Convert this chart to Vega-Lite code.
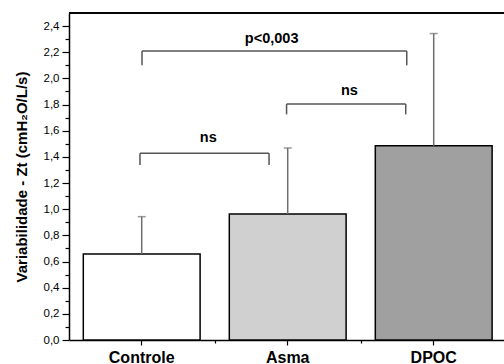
{
  "$schema": "https://vega.github.io/schema/vega-lite/v6.json",
  "width": 435,
  "height": 327,
  "autosize": {"type": "none"},
  "padding": {"left": 69, "top": 13, "right": 0, "bottom": 24},
  "config": {
    "font": "Liberation Sans",
    "view": {"stroke": null},
    "axis": {"grid": false, "domainColor": "#000", "domainWidth": 1.5, "tickColor": "#000", "tickWidth": 1.2, "labelColor": "#000", "titleColor": "#000"},
    "axisY": {
      "titleFontSize": 15, "titleFontWeight": "bold", "titlePadding": 14,
      "labelFontSize": 11.5, "labelPadding": 3, "labelOverlap": false,
      "labelExpr": "round(datum.value*10) % 2 === 0 ? replace(format(datum.value, '.1f'), '.', ',') : ''",
      "tickSize": {"condition": {"test": "round(datum.value*10) % 2 === 0", "value": 7}, "value": 4}
    }
  },
  "datasets": {
    "bars": [
      {"grupo": "Controle", "media": 0.657, "superior": 0.943},
      {"grupo": "Asma", "media": 0.963, "superior": 1.468},
      {"grupo": "DPOC", "media": 1.485, "superior": 2.343}
    ],
    "brackets": [
      {"rotulo": "p<0,003", "x1": 0.5, "x2": 2.313, "y": 2.21, "ylow": 2.10, "xt": 1.388, "yt": 2.299},
      {"rotulo": "ns", "x1": 1.49, "x2": 2.306, "y": 1.804, "ylow": 1.725, "xt": 1.92, "yt": 1.905},
      {"rotulo": "ns", "x1": 0.486, "x2": 1.37, "y": 1.427, "ylow": 1.338, "xt": 0.954, "yt": 1.547}
    ]
  },
  "layer": [
    {
      "data": {"name": "bars"},
      "encoding": {
        "x": {
          "field": "grupo", "type": "nominal",
          "scale": {"domain": ["Controle", "Asma", "DPOC"], "paddingInner": 0.2, "paddingOuter": 0.0897, "align": 0.546},
          "axis": {"title": null, "labelFontSize": 16, "labelFontWeight": "bold", "labelAngle": 0, "tickSize": 5, "labelPadding": 4}
        }
      },
      "layer": [
        {
          "mark": {"type": "bar", "stroke": "#000", "strokeWidth": 1.5},
          "encoding": {
            "y": {
              "field": "media", "type": "quantitative",
              "scale": {"domain": [0, 2.5], "nice": false},
              "axis": {"title": "Variabilidade - Zt (cmH₂O/L/s)", "values": [0, 0.1, 0.2, 0.3, 0.4, 0.5, 0.6, 0.7, 0.8, 0.9, 1.0, 1.1, 1.2, 1.3, 1.4, 1.5, 1.6, 1.7, 1.8, 1.9, 2.0, 2.1, 2.2, 2.3, 2.4]}
            },
            "color": {
              "field": "grupo", "type": "nominal",
              "scale": {"domain": ["Controle", "Asma", "DPOC"], "range": ["#ffffff", "#d0d0d0", "#a0a0a0"]},
              "legend": null
            }
          }
        },
        {
          "mark": {"type": "rule", "color": "#6e6e6e", "strokeWidth": 1.5},
          "encoding": {
            "y": {"field": "media", "type": "quantitative", "axis": {"title": "Variabilidade - Zt (cmH₂O/L/s)", "values": [0, 0.1, 0.2, 0.3, 0.4, 0.5, 0.6, 0.7, 0.8, 0.9, 1.0, 1.1, 1.2, 1.3, 1.4, 1.5, 1.6, 1.7, 1.8, 1.9, 2.0, 2.1, 2.2, 2.3, 2.4]}},
            "y2": {"field": "superior"}
          }
        },
        {
          "mark": {"type": "tick", "color": "#6e6e6e", "thickness": 1.5, "size": 8},
          "encoding": {
            "y": {"field": "superior", "type": "quantitative", "axis": {"title": "Variabilidade - Zt (cmH₂O/L/s)", "values": [0, 0.1, 0.2, 0.3, 0.4, 0.5, 0.6, 0.7, 0.8, 0.9, 1.0, 1.1, 1.2, 1.3, 1.4, 1.5, 1.6, 1.7, 1.8, 1.9, 2.0, 2.1, 2.2, 2.3, 2.4]}}
          }
        }
      ]
    },
    {
      "data": {"name": "brackets"},
      "layer": [
        {
          "mark": {"type": "rule", "color": "#000", "strokeWidth": 1.5},
          "encoding": {"y": {"datum": 2.5, "type": "quantitative", "axis": {"title": "Variabilidade - Zt (cmH₂O/L/s)", "values": [0, 0.1, 0.2, 0.3, 0.4, 0.5, 0.6, 0.7, 0.8, 0.9, 1.0, 1.1, 1.2, 1.3, 1.4, 1.5, 1.6, 1.7, 1.8, 1.9, 2.0, 2.1, 2.2, 2.3, 2.4]}}}
        },
        {
          "mark": {"type": "rule", "color": "#555", "strokeWidth": 1.5},
          "encoding": {
            "x": {"field": "x1", "type": "quantitative", "scale": {"domain": [0, 2.979], "nice": false, "zero": false},
                  "axis": {"title": null, "values": [1, 2], "labels": false, "domain": false, "tickSize": 3, "orient": "bottom"}},
            "x2": {"field": "x2"},
            "y": {"field": "y", "type": "quantitative", "axis": {"title": "Variabilidade - Zt (cmH₂O/L/s)", "values": [0, 0.1, 0.2, 0.3, 0.4, 0.5, 0.6, 0.7, 0.8, 0.9, 1.0, 1.1, 1.2, 1.3, 1.4, 1.5, 1.6, 1.7, 1.8, 1.9, 2.0, 2.1, 2.2, 2.3, 2.4]}}
          }
        },
        {
          "mark": {"type": "rule", "color": "#555", "strokeWidth": 1.5},
          "encoding": {
            "x": {"field": "x1", "type": "quantitative", "axis": {"title": null, "values": [1, 2], "labels": false, "domain": false, "tickSize": 3, "orient": "bottom"}},
            "y": {"field": "y", "type": "quantitative", "axis": {"title": "Variabilidade - Zt (cmH₂O/L/s)", "values": [0, 0.1, 0.2, 0.3, 0.4, 0.5, 0.6, 0.7, 0.8, 0.9, 1.0, 1.1, 1.2, 1.3, 1.4, 1.5, 1.6, 1.7, 1.8, 1.9, 2.0, 2.1, 2.2, 2.3, 2.4]}},
            "y2": {"field": "ylow"}
          }
        },
        {
          "mark": {"type": "rule", "color": "#555", "strokeWidth": 1.5},
          "encoding": {
            "x": {"field": "x2", "type": "quantitative", "axis": {"title": null, "values": [1, 2], "labels": false, "domain": false, "tickSize": 3, "orient": "bottom"}},
            "y": {"field": "y", "type": "quantitative", "axis": {"title": "Variabilidade - Zt (cmH₂O/L/s)", "values": [0, 0.1, 0.2, 0.3, 0.4, 0.5, 0.6, 0.7, 0.8, 0.9, 1.0, 1.1, 1.2, 1.3, 1.4, 1.5, 1.6, 1.7, 1.8, 1.9, 2.0, 2.1, 2.2, 2.3, 2.4]}},
            "y2": {"field": "ylow"}
          }
        },
        {
          "mark": {"type": "text", "fontSize": 14.5, "fontWeight": "bold", "color": "#000", "baseline": "middle", "align": "center"},
          "encoding": {
            "x": {"field": "xt", "type": "quantitative", "axis": {"title": null, "values": [1, 2], "labels": false, "domain": false, "tickSize": 3, "orient": "bottom"}},
            "y": {"field": "yt", "type": "quantitative", "axis": {"title": "Variabilidade - Zt (cmH₂O/L/s)", "values": [0, 0.1, 0.2, 0.3, 0.4, 0.5, 0.6, 0.7, 0.8, 0.9, 1.0, 1.1, 1.2, 1.3, 1.4, 1.5, 1.6, 1.7, 1.8, 1.9, 2.0, 2.1, 2.2, 2.3, 2.4]}},
            "text": {"field": "rotulo"}
          }
        }
      ]
    }
  ],
  "resolve": {"scale": {"x": "independent"}}
}
